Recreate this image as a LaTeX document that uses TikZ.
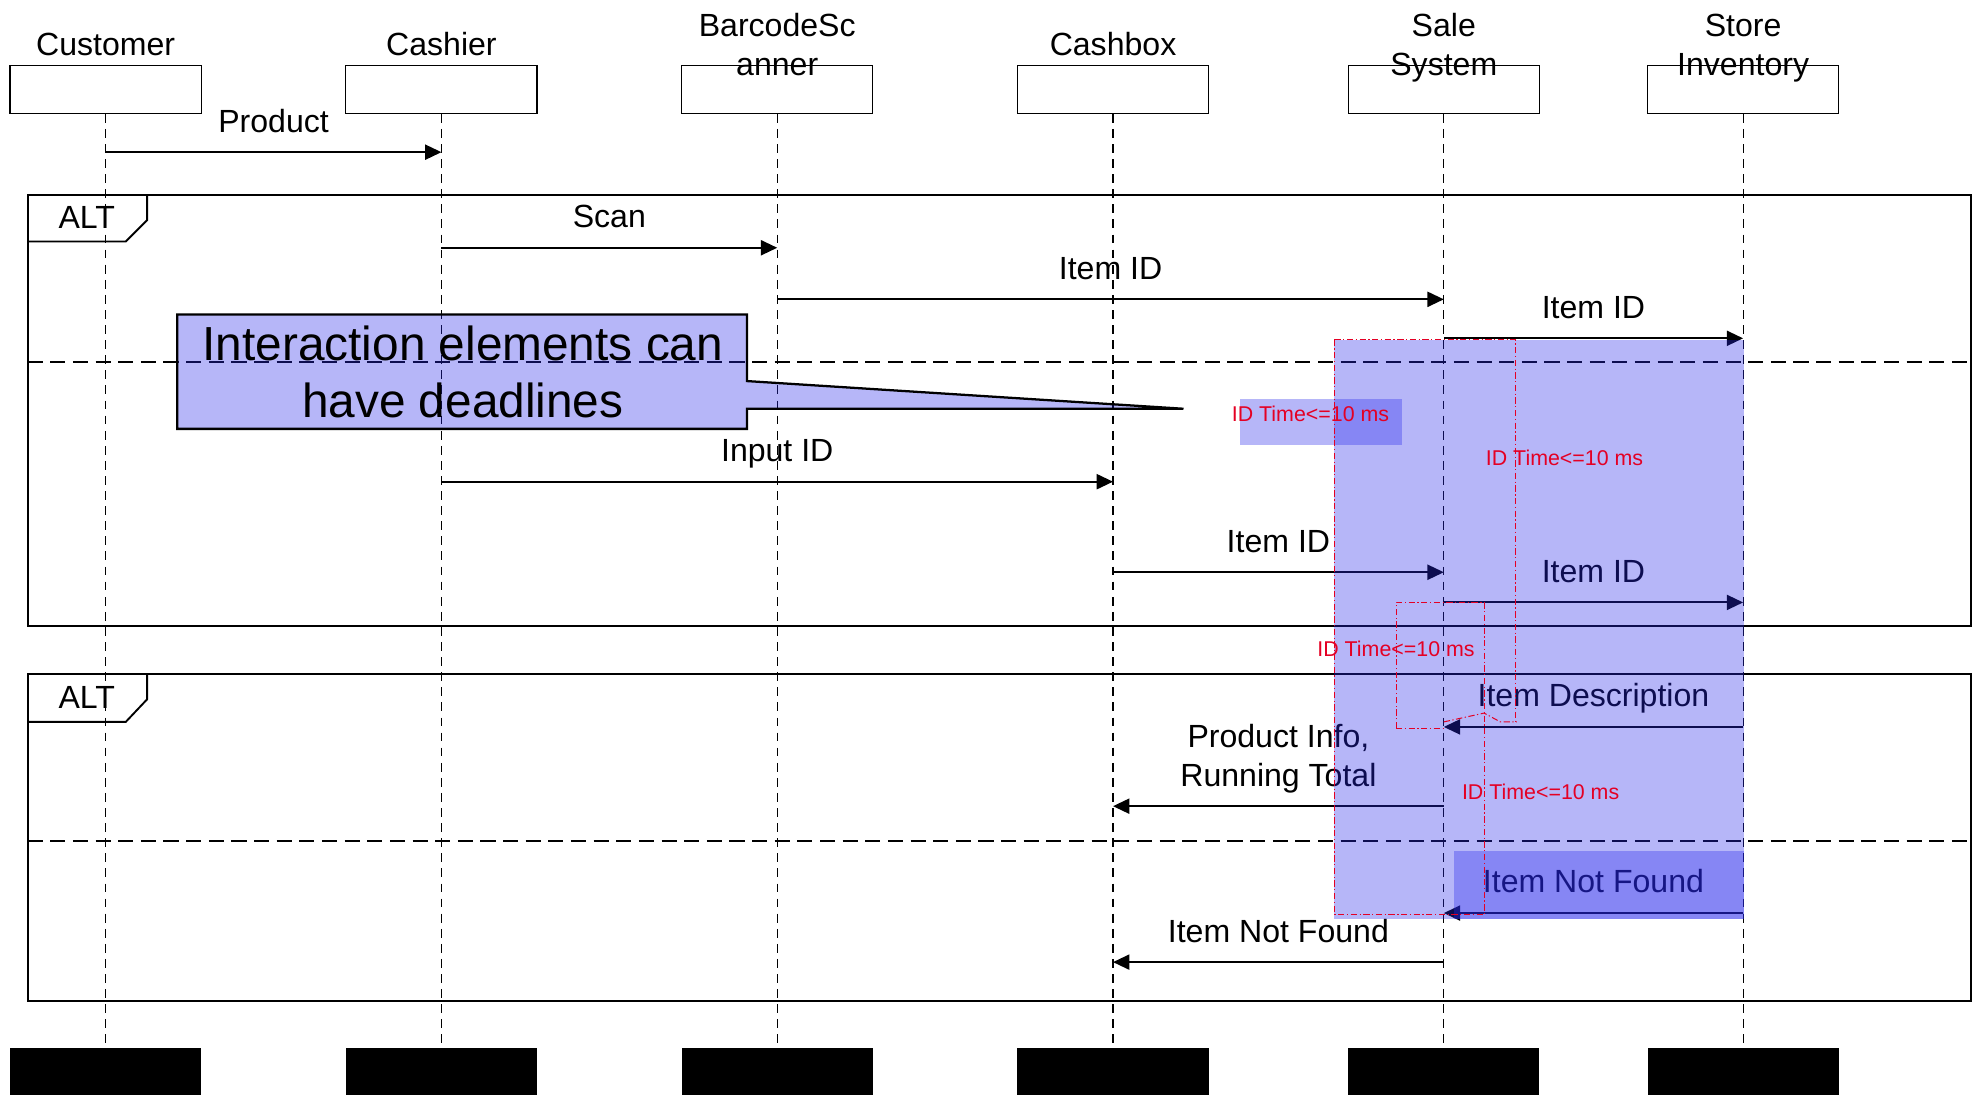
\documentclass[tikz,border=0pt]{standalone}
\usepackage{fontspec}
\setmainfont{Liberation Sans}
\usetikzlibrary{arrows.meta}
\definecolor{tintblue}{RGB}{40,40,235}
\definecolor{deadlinered}{RGB}{228,0,36}
\begin{document}
\begin{tikzpicture}[x=1pt,y=-1pt,
  headbox/.style={draw, line width=1pt, minimum width=152pt, minimum height=38pt, inner sep=0pt},
  endbox/.style={fill=black, minimum width=152pt, minimum height=38pt, inner sep=0pt},
  lifeline/.style={line width=0.9pt, dash pattern=on 7pt off 5pt},
  msg/.style={line width=1.5pt, -{Triangle[length=13pt,width=12pt]}},
  lbl/.style={font=\fontsize{25.5}{30}\selectfont, inner sep=0pt, anchor=base},
  frameline/.style={line width=1.5pt},
  divider/.style={line width=1.5pt, dash pattern=on 12pt off 6pt},
  tint/.style={fill=tintblue, fill opacity=0.34},
  deadline/.style={draw=deadlinered, line width=0.8pt, dash pattern=on 5pt off 2pt on 1pt off 2pt},
  dlabel/.style={text=deadlinered, font=\fontsize{17}{20}\selectfont, inner sep=0pt, anchor=base},
  notetext/.style={font=\fontsize{38}{45}\selectfont, inner sep=0pt, anchor=base},
]
\useasboundingbox (0,0) rectangle (1568,871);

% ---- interaction frames ----
\draw[frameline] (22,155) rectangle (1567,498);
\draw[frameline] (22,192) -- (100,192) -- (117,175) -- (117,155);
\node[lbl] (alt1) at (69,182) {ALT};
\draw[divider] (22,288) -- (1567,288);

\draw[frameline] (22,536) rectangle (1567,796);
\draw[frameline] (22,574) -- (100,574) -- (117,556) -- (117,536);
\node[lbl] (alt2) at (69,563) {ALT};
\draw[divider] (22,669) -- (1567,669);

% ---- participants ----
\node[headbox] (cust) at (84,71) {};
\node[headbox] (cash) at (351,71) {};
\node[headbox] (scan) at (618,71) {};
\node[headbox] (cbox) at (885,71) {};
\node[headbox] (sale) at (1148,71) {};
\node[headbox] (inv)  at (1386,71) {};

\node[lbl] (custName) at (84,44) {Customer};
\node[lbl] (cashName) at (351,44) {Cashier};
\node[lbl] (scanNameA) at (618,29) {BarcodeSc};
\node[lbl] (scanNameB) at (618,60) {anner};
\node[lbl] (cboxName) at (885,44) {Cashbox};
\node[lbl] (saleNameA) at (1148,29) {Sale};
\node[lbl] (saleNameB) at (1148,60) {System};
\node[lbl] (invNameA) at (1386,29) {Store};
\node[lbl] (invNameB) at (1386,60) {Inventory};

\node[endbox] (custEnd) at (84,852) {};
\node[endbox] (cashEnd) at (351,852) {};
\node[endbox] (scanEnd) at (618,852) {};
\node[endbox] (cboxEnd) at (885,852) {};
\node[endbox] (saleEnd) at (1148,852) {};
\node[endbox] (invEnd)  at (1386,852) {};

\foreach \p in {cust,cash,scan,cbox,sale,inv}
  \draw[lifeline] (\p.south) -- (\p End.north);

% ---- message rows ----
\coordinate (r1) at (0,121);
\coordinate (r2) at (0,197);
\coordinate (r3) at (0,238);
\coordinate (r4) at (0,269);
\coordinate (r5) at (0,383);
\coordinate (r6) at (0,455);
\coordinate (r7) at (0,479);
\coordinate (r8) at (0,578);
\coordinate (r9) at (0,641);
\coordinate (r10) at (0,726);
\coordinate (r11) at (0,765);

\draw[msg] (cust |- r1) -- (cash |- r1) node[lbl, midway, yshift=16pt] (m1) {Product};
\draw[msg] (cash |- r2) -- (scan |- r2) node[lbl, midway, yshift=16pt] (m2) {Scan};
\draw[msg] (scan |- r3) -- (sale |- r3) node[lbl, midway, yshift=16pt] (m3) {Item ID};
\draw[msg] (sale |- r4) -- (inv |- r4)  node[lbl, midway, yshift=16pt] (m4) {Item ID};
\draw[msg] (cash |- r5) -- (cbox |- r5) node[lbl, midway, yshift=16pt] (m5) {Input ID};
\draw[msg] (cbox |- r6) -- (sale |- r6) node[lbl, midway, yshift=16pt] (m6) {Item ID};
\draw[msg] (sale |- r7) -- (inv |- r7)  node[lbl, midway, yshift=16pt] (m7) {Item ID};
\draw[msg] (inv |- r8) -- (sale |- r8)  node[lbl, midway, yshift=16pt] (m8) {Item Description};
\draw[msg] (sale |- r9) -- (cbox |- r9)
  node[lbl, midway, yshift=47pt] (m9a) {Product Info,}
  node[lbl, midway, yshift=16pt] (m9b) {Running Total};
\draw[msg] (inv |- r10) -- (sale |- r10) node[lbl, midway, yshift=16pt] (m10) {Item Not Found};
\draw[msg] (sale |- r11) -- (cbox |- r11) node[lbl, midway, yshift=16pt] (m11) {Item Not Found};

% ---- note callout ----
\draw[line width=1.8pt, tint] (141,250) -- (594,250) -- (594,303) -- (941,325)
  -- (594,325) -- (594,341) -- (141,341) -- cycle;
\node[notetext] (noteA) at (368,287) {Interaction elements can};
\node[notetext] (noteB) at (368,332) {have deadlines};

% ---- deadline regions ----
\fill[tint] (1061,270) rectangle (1387,731);
\fill[tint] (1156,677) rectangle (1387,731);
\fill[tint] (986,317) rectangle (1115,354);

\draw[deadline] (1061,270) -- (1205,270) -- (1205,574);
\draw[deadline] (1061,270) -- (1061,727) -- (1180,727);
\draw[deadline] (1110,579) -- (1110,479) -- (1180,479) -- (1180,727);
\draw[deadline] (1110,579) -- (1148,579);
\draw[deadline] (1148,574) -- (1180,567) -- (1193,574) -- (1206,574);

\node[dlabel] (d1) at (1042,335.5) {ID Time<=10 ms};
\node[dlabel] (d2) at (1244,370) {ID Time<=10 ms};
\node[dlabel] (d3) at (1110,522) {ID Time<=10 ms};
\node[dlabel] (d4) at (1225,636) {ID Time<=10 ms};
\end{tikzpicture}
\end{document}
